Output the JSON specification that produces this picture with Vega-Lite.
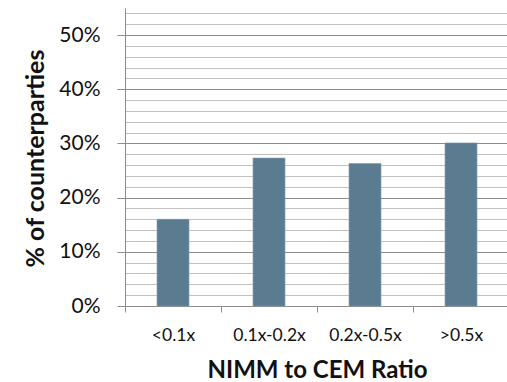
{
  "$schema": "https://vega.github.io/schema/vega-lite/v6.json",
  "autosize": "none",
  "width": 382,
  "height": 298,
  "padding": {"left": 125, "top": 8, "right": 0, "bottom": 76},
  "background": "white",
  "config": {
    "view": {"stroke": null},
    "font": "Lato"
  },
  "data": {
    "values": [
      {"ratio": "<0.1x", "share": 0.16},
      {"ratio": "0.1x-0.2x", "share": 0.273},
      {"ratio": "0.2x-0.5x", "share": 0.263},
      {"ratio": ">0.5x", "share": 0.301}
    ]
  },
  "mark": {"type": "bar", "width": 32, "color": "#5b7c90", "stroke": "#7f9aab", "strokeWidth": 0.6},
  "encoding": {
    "x": {
      "field": "ratio",
      "type": "nominal",
      "sort": null,
      "scale": {"paddingInner": 0, "paddingOuter": 0, "range": [0, 384]},
      "axis": {
        "title": "NIMM to CEM Ratio",
        "titleFont": "Lato",
        "titleFontWeight": "bold",
        "titleFontSize": 24,
        "titleColor": "#111111",
        "titlePadding": 15,
        "labelAngle": 0,
        "labelFont": "Lato",
        "labelFontSize": 17.5,
        "labelColor": "#111111",
        "labelPadding": 14,
        "tickBand": "extent",
        "tickSize": 6,
        "tickColor": "#8c8c8c",
        "domainColor": "#8c8c8c",
        "grid": false
      }
    },
    "y": {
      "field": "share",
      "type": "quantitative",
      "scale": {"domain": [0, 0.55], "nice": false},
      "axis": {
        "title": "% of counterparties",
        "titleFont": "Lato",
        "titleFontWeight": "bold",
        "titleFontSize": 25,
        "titleColor": "#111111",
        "titleAngle": -90,
        "titleX": -90,
        "titleY": 150,
        "titleBaseline": "middle",
        "titleAlign": "center",
        "values": [0, 0.02, 0.04, 0.06, 0.08, 0.1, 0.12, 0.14, 0.16, 0.18, 0.2, 0.22, 0.24, 0.26, 0.28, 0.3, 0.32, 0.34, 0.36, 0.38, 0.4, 0.42, 0.44, 0.46, 0.48, 0.5, 0.52, 0.54],
        "labelExpr": "round(datum.value * 100) % 10 === 0 ? format(datum.value, '.0%') : ''",
        "labelFont": "Lato",
        "labelFontSize": 21,
        "labelColor": "#111111",
        "labelPadding": 17,
        "tickSize": 8,
        "tickColor": "#8c8c8c",
        "tickOpacity": {"condition": {"test": "round(datum.value * 100) % 10 === 0", "value": 1}, "value": 0},
        "domainColor": "#8c8c8c",
        "grid": true,
        "gridColor": {"condition": {"test": "round(datum.value * 100) % 10 === 0", "value": "#8c8c8c"}, "value": "#c0c0c0"},
        "gridWidth": 1.2
      }
    }
  }
}
